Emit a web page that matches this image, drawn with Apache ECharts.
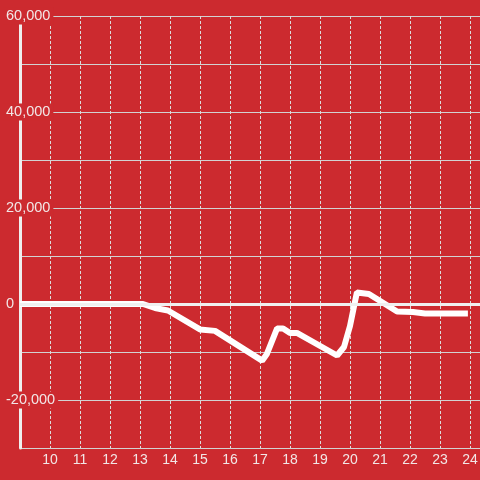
<!DOCTYPE html>
<html>
<head>
<meta charset="utf-8">
<script src="https://cdn.jsdelivr.net/npm/echarts@6/dist/echarts.min.js"></script>
<style>html,body{margin:0;padding:0;background:#cc2a2f;}#c{width:480px;height:480px;}</style>
</head>
<body>
<div id="c"></div>
<script>
// hour of day (decimal)
const hours = [9.0, 13.1, 13.5, 13.93, 15.0, 15.5, 17.07, 17.23, 17.57, 17.77, 18.0, 18.23, 19.57, 19.8, 20.0, 20.23, 20.63, 21.57, 22.1, 22.5, 23.93];
const values = [0, 0, -830, -1350, -5300, -5600, -11800, -10400, -5100, -5100, -6040, -6040, -10730, -8960, -4580, 2400, 2080, -1560, -1670, -1980, -1980];
const yTickLabels = [60000, 40000, 20000, 0, -20000];

const data = hours.map((h, i) => [h, values[i]]);
const fmt = v => (v < 0 ? '-' : '') + Math.abs(v).toLocaleString('en-US');
const font = 'Liberation Sans, Arial, sans-serif';

const chart = echarts.init(document.getElementById('c'), null, {renderer: 'canvas'});
chart.setOption({
  backgroundColor: '#cc2a2f',
  animation: false,
  grid: {left: 20, right: 0, top: 16, bottom: 32, outerBoundsMode: 'none', containLabel: false},
  xAxis: {
    type: 'value', min: 9, max: 24 + 1/3, interval: 1, z: 0,
    axisLine: {show: false}, axisTick: {show: false},
    axisLabel: {
      color: '#f2e6e6', fontSize: 14, fontFamily: font, margin: 5,
      formatter: v => (Number.isInteger(v) && v > 9 && v <= 24) ? String(v) : ''
    },
    splitLine: {show: true, lineStyle: {color: '#dcdcdc', width: 1, type: [3, 2]}}
  },
  yAxis: [{
    type: 'value', min: -30000, max: 60000, interval: 10000, position: 'left', z: 1,
    axisLine: {show: true, lineStyle: {color: '#efefef', width: 3}},
    axisTick: {show: false},
    splitLine: {show: false},
    axisLabel: {
      align: 'left', margin: 17, fontFamily: font, fontSize: 14.5,
      formatter: v => yTickLabels.indexOf(v) >= 0 ? '{b|' + fmt(v) + '}' : '',
      rich: {b: {color: '#f2e6e6', fontSize: 14.5, fontFamily: font, lineHeight: 15,
                 backgroundColor: '#cc2a2f', padding: [1, 3, 1, 3]}}
    }
  }, {
    type: 'value', min: -30000, max: 60000, interval: 10000, position: 'right', z: 0,
    axisLine: {show: false}, axisTick: {show: false}, axisLabel: {show: false},
    splitLine: {show: true, lineStyle: {color: '#d2d2d2', width: 1}}
  }],
  series: [{
    type: 'line', data: data, xAxisIndex: 0, yAxisIndex: 0, z: 2,
    showSymbol: false, symbol: 'none',
    lineStyle: {color: '#ffffff', width: 6},
    markLine: {
      silent: true, symbol: ['none', 'none'], label: {show: false},
      lineStyle: {color: '#f0f0f0', width: 3, type: 'solid'},
      data: [{yAxis: 0}]
    }
  }]
});
</script>
</body>
</html>
